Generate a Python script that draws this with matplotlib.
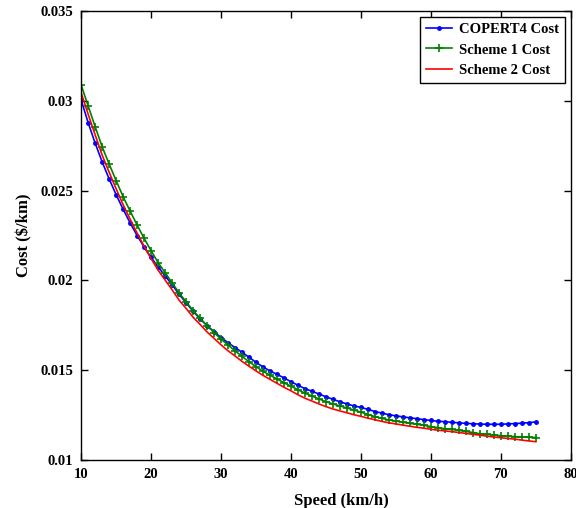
import numpy as np
import matplotlib
matplotlib.use('Agg')
import matplotlib.pyplot as plt
from matplotlib.ticker import FuncFormatter

# Velocidades (km/h)
speed = list(range(10, 76))

# Custo COPERT4 ($/km)
copert4 = [0.03004, 0.02878, 0.02764, 0.02660, 0.02565, 0.02477, 0.02396, 0.02320, 0.02250, 0.02186,
           0.02128, 0.02075, 0.02025, 0.01977, 0.01922, 0.01876, 0.01828, 0.01786, 0.01748, 0.01714,
           0.01682, 0.01653, 0.01626, 0.01600, 0.01572, 0.01544, 0.01518, 0.01496, 0.01477, 0.01457,
           0.01436, 0.01416, 0.01397, 0.01383, 0.01367, 0.01352, 0.01338, 0.01324, 0.01312, 0.01301,
           0.01293, 0.01282, 0.01270, 0.01261, 0.01252, 0.01246, 0.01240, 0.01235, 0.01230, 0.01225,
           0.01220, 0.01216, 0.01213, 0.01210, 0.01207, 0.01204, 0.01202, 0.01200, 0.01199, 0.01199,
           0.01199, 0.01201, 0.01203, 0.01205, 0.01208, 0.01212]

# Custo Scheme 1
scheme1 = [0.03088, 0.02971, 0.02856, 0.02744, 0.02648, 0.02555, 0.02466, 0.02386, 0.02308, 0.02234,
           0.02165, 0.02099, 0.02043, 0.01987, 0.01930, 0.01881, 0.01832, 0.01789, 0.01748, 0.01710,
           0.01673, 0.01640, 0.01608, 0.01577, 0.01547, 0.01520, 0.01494, 0.01472, 0.01451, 0.01430,
           0.01411, 0.01391, 0.01372, 0.01356, 0.01340, 0.01325, 0.01312, 0.01301, 0.01290, 0.01278,
           0.01267, 0.01253, 0.01242, 0.01232, 0.01223, 0.01217, 0.01210, 0.01204, 0.01199, 0.01193,
           0.01186, 0.01180, 0.01174, 0.01170, 0.01165, 0.01159, 0.01153, 0.01146, 0.01143, 0.01139,
           0.01135, 0.01133, 0.01130, 0.01128, 0.01126, 0.01125]

# Custo Scheme 2
scheme2 = [0.03044, 0.02925, 0.02810, 0.02698, 0.02602, 0.02510, 0.02421, 0.02341, 0.02263, 0.02190,
           0.02121, 0.02057, 0.02002, 0.01948, 0.01890, 0.01844, 0.01795, 0.01755, 0.01713, 0.01677,
           0.01641, 0.01608, 0.01579, 0.01549, 0.01522, 0.01496, 0.01471, 0.01449, 0.01427, 0.01405,
           0.01385, 0.01363, 0.01344, 0.01328, 0.01312, 0.01297, 0.01284, 0.01273, 0.01263, 0.01252,
           0.01243, 0.01233, 0.01224, 0.01215, 0.01207, 0.01201, 0.01194, 0.01188, 0.01182, 0.01177,
           0.01171, 0.01166, 0.01162, 0.01158, 0.01153, 0.01148, 0.01143, 0.01138, 0.01133, 0.01128,
           0.01124, 0.01120, 0.01116, 0.01111, 0.01106, 0.01102]

x_ticks = [10, 20, 30, 40, 50, 60, 70, 80]
y_ticks = [0.01, 0.015, 0.02, 0.025, 0.03, 0.035]

plt.rcParams['font.family'] = 'Liberation Serif'
plt.rcParams['font.weight'] = 'bold'

fig = plt.figure(figsize=(5.76, 5.08), dpi=100)
ax = fig.add_axes([0.141, 0.0945, 0.85, 0.8835])

ax.plot(speed, copert4, color='#0000ff', marker='.', markersize=5, linewidth=1.2, label='COPERT4 Cost')
ax.plot(speed, scheme1, color='#008000', marker='+', markersize=6, markeredgewidth=1.2, linewidth=1.2, label='Scheme 1 Cost')
ax.plot(speed, scheme2, color='#ff0000', linewidth=1.2, label='Scheme 2 Cost')

ax.set_xlim(10, 80)
ax.set_ylim(0.01, 0.035)
ax.set_xticks(x_ticks)
ax.set_yticks(y_ticks)
ax.yaxis.set_major_formatter(FuncFormatter(lambda v, p: '%g' % round(v, 4)))
ax.tick_params(direction='in', length=5, width=1, top=True, right=True, labelsize=10.5, pad=6)
for lbl in ax.get_xticklabels() + ax.get_yticklabels():
    lbl.set_fontweight('bold')
for s in ax.spines.values():
    s.set_linewidth(1.0)

ax.set_xlabel('Speed (km/h)', fontsize=12, fontweight='bold')
ax.set_ylabel('Cost ($/km)', fontsize=12, fontweight='bold')
ax.xaxis.set_label_coords(0.531, -0.074)
ax.yaxis.set_label_coords(-0.100, 0.5)

leg = ax.legend(loc='upper right', fontsize=10.5, fancybox=False, framealpha=1,
                edgecolor='black', borderaxespad=0.4, handlelength=1.8, handletextpad=0.5,
                labelspacing=0.5, borderpad=0.4)
leg.get_frame().set_linewidth(1.0)
for t in leg.get_texts():
    t.set_fontweight('bold')

plt.savefig('out.png', dpi=100)
